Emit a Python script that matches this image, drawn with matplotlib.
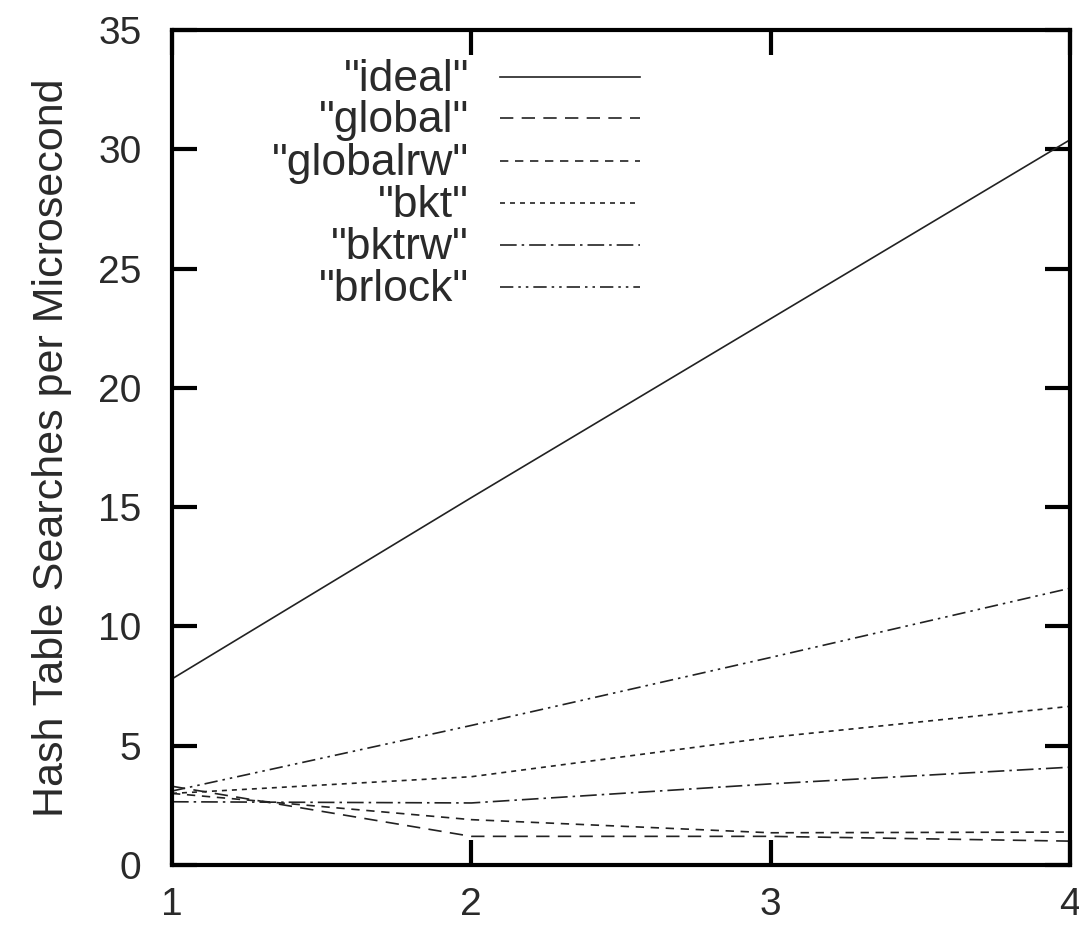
import matplotlib
matplotlib.use("Agg")
import matplotlib.pyplot as plt
from matplotlib.lines import Line2D

plt.rcParams['font.family'] = ['Liberation Sans', 'DejaVu Sans']

x = [1, 2, 3, 4]
series_names = ['"ideal"', '"global"', '"globalrw"', '"bkt"', '"bktrw"', '"brlock"']
ideal = [7.8, 15.4, 22.9, 30.4]
global_ = [3.3, 1.2, 1.2, 1.0]
globalrw = [3.0, 1.9, 1.35, 1.38]
bkt = [3.0, 3.7, 5.35, 6.65]
bktrw = [2.65, 2.6, 3.4, 4.1]
brlock = [3.1, 5.85, 8.7, 11.6]
y_ticks = [0, 5, 10, 15, 20, 25, 30, 35]
x_ticks = [1, 2, 3, 4]

data = [ideal, global_, globalrw, bkt, bktrw, brlock]
styles = [
    '-',
    (0, (8, 5)),
    (0, (5, 4)),
    (0, (3, 3)),
    (0, (10, 3, 1.5, 3)),
    (0, (8, 3, 1.5, 3, 1.5, 3)),
]
color = '#222222'
text_color = '#2a2a2a'

W, H = 1079.0, 927.0
ax_left, ax_bottom, ax_w, ax_h = 0.1594, 0.0669, 0.8323, 0.9007

fig = plt.figure(figsize=(10.79, 9.27), dpi=100)
ax = fig.add_axes([ax_left, ax_bottom, ax_w, ax_h])

for vals, ls in zip(data, styles):
    ax.plot(x, vals, linestyle=ls, color=color, linewidth=1.2)

ax.set_xlim(1, 4)
ax.set_ylim(0, 35)
ax.set_xticks(x_ticks)
ax.set_yticks(y_ticks)
ax.tick_params(direction='in', length=18, width=3, top=True, right=True,
               color='black', labelcolor=text_color)
ax.tick_params(axis='y', pad=22, labelsize=28)
ax.tick_params(axis='x', pad=16, labelsize=28)
for sp in ax.spines.values():
    sp.set_linewidth(3)
ax.set_ylabel('Hash Table Searches per Microsecond', fontsize=31, color=text_color)
ax.yaxis.set_label_coords((72 / W - ax_left) / ax_w, 0.5)

def to_ax(px, py):
    fx = px / W
    fy = 1 - py / H
    return (fx - ax_left) / ax_w, (fy - ax_bottom) / ax_h

# legend (manual, right-aligned labels like gnuplot)
baselines = [91, 132, 175, 217, 259, 301]
for name, ls, py in zip(series_names, styles, baselines):
    tx, ty = to_ax(469, py)
    ax.text(tx, ty, name, transform=ax.transAxes, ha='right', va='baseline',
            fontsize=32, color=text_color)
    x0, ly = to_ax(500, py - 14)
    x1, _ = to_ax(640, py - 14)
    ax.add_line(Line2D([x0, x1], [ly, ly], transform=ax.transAxes,
                       linestyle=ls, color=color, linewidth=1.2))

fig.savefig('out.png', dpi=100)
